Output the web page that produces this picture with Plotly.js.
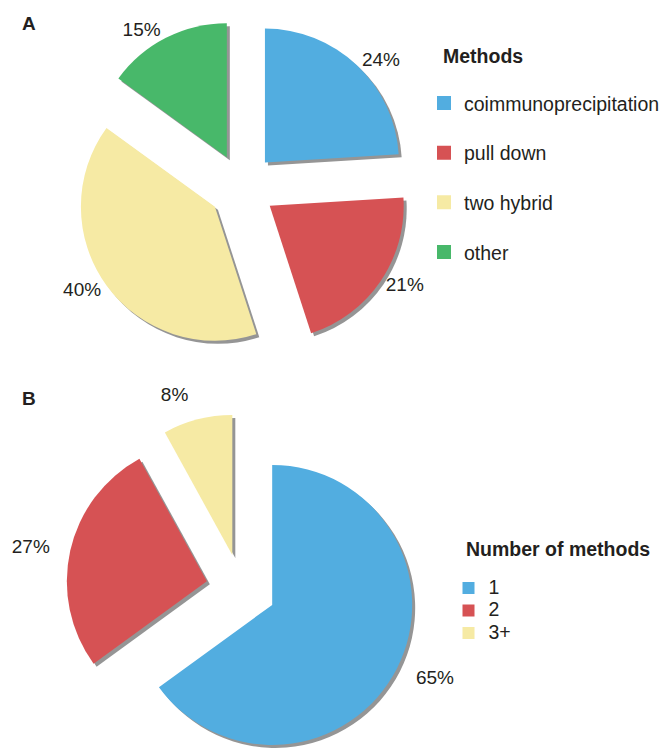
<!DOCTYPE html>
<html><head><meta charset="utf-8">
<script src="https://cdn.plot.ly/plotly-3.0.1.min.js"></script>
<style>html,body{margin:0;padding:0;overflow:hidden;background:#fff}#chart{width:666px;height:790px}</style>
</head><body><div id="chart"></div>
<script>
// ---- data ----
const methodLabels = ['coimmunoprecipitation', 'pull down', 'two hybrid', 'other'];
const methodValues = [24, 21, 40, 15];
const countLabels = ['1', '2', '3+'];
const countValues = [65, 27, 8];

// ---- styles ----
const methodColors = ['#52ade0', '#d65254', '#f6eaa4', '#48b86a'];
const countColors = ['#52ade0', '#d65254', '#f6eaa4'];
const shadowColor = '#959595';
const textColor = '#231f20';
const FONT = 'Liberation Sans, Arial, Helvetica, sans-serif';
const W = 666, H = 790;
const PULL = 0.25;

function dom(x0, x1, yTop, yBot, dx, dy) {
  dx = dx || 0; dy = dy || 0;
  return {x: [(x0 + dx) / W, (x1 + dx) / W], y: [1 - (yBot + dy) / H, 1 - (yTop + dy) / H]};
}
function pie(labels, values, colors, domain, extra) {
  return Object.assign({
    type: 'pie', labels: labels, values: values, sort: false, direction: 'clockwise', rotation: 0,
    pull: values.map(() => PULL), domain: domain,
    marker: {colors: colors, line: {width: 0}},
    textposition: 'outside', textinfo: 'percent',
    textfont: {family: FONT, size: 19, color: textColor},
    outsidetextfont: {family: FONT, size: 19, color: textColor},
    hoverinfo: 'label+percent'
  }, extra || {});
}

const domA = [74.5, 409.5, 19.5, 354.5];   // centre (242,187), r = 134
const domB = [66, 416, 414, 764];          // centre (241,589), r = 140
const SH = 3;
const LABEL_PULL_B = 0.36;                 // labels of panel B sit a little further out
const sB = 140 * (1 + LABEL_PULL_B);       // half-size of label carrier domain

const traces = [];
// shadows
traces.push(pie(methodLabels, methodValues, methodValues.map(() => shadowColor),
  dom(domA[0], domA[1], domA[2], domA[3], SH, SH), {textinfo: 'none', hoverinfo: 'skip', showlegend: false}));
traces.push(pie(countLabels, countValues, countValues.map(() => shadowColor),
  dom(domB[0], domB[1], domB[2], domB[3], SH, SH), {textinfo: 'none', hoverinfo: 'skip', showlegend: false}));
// main pies
traces.push(pie(methodLabels, methodValues, methodColors, dom(domA[0], domA[1], domA[2], domA[3]), {showlegend: false}));
traces.push(pie(countLabels.map(l => '<span style="font-size:19.5px">' + l + '</span>'), countValues, countColors,
  dom(domB[0], domB[1], domB[2], domB[3]), {legend: 'legend2', textinfo: 'none'}));
// percentage labels for panel B (transparent slices, same centre and radius)
traces.push(pie(countLabels, countValues, countValues.map(() => 'rgba(0,0,0,0)'),
  dom(241 - sB, 241 + sB, 589 - sB, 589 + sB), {pull: countValues.map(() => LABEL_PULL_B), showlegend: false, hoverinfo: 'skip'}));
// legend entries for panel A (one group per method for wider spacing)
methodLabels.forEach((lab, i) => traces.push({
  type: 'scatter', mode: 'markers', x: [null], y: [null], name: lab, legendgroup: 'm' + i,
  marker: {symbol: 'square', size: 14, color: methodColors[i]}, hoverinfo: 'skip', legend: 'legend'
}));

const layout = {
  width: W, height: H,
  margin: {l: 0, r: 0, t: 0, b: 0, autoexpand: false},
  paper_bgcolor: '#ffffff', plot_bgcolor: '#ffffff',
  font: {family: FONT, size: 19, color: textColor},
  xaxis: {visible: false}, yaxis: {visible: false},
  showlegend: true,
  legend: {x: 424 / W, xanchor: 'left', y: 1 - 83.8 / H, yanchor: 'top',
    font: {family: FONT, size: 19.5, color: textColor}, tracegroupgap: 21.3,
    bgcolor: 'rgba(0,0,0,0)', traceorder: 'grouped'},
  legend2: {x: 448.5 / W, xanchor: 'left', y: 1 - 571.75 / H, yanchor: 'top',
    font: {family: FONT, size: 15, color: textColor}, bgcolor: 'rgba(0,0,0,0)', traceorder: 'normal'},
  annotations: [
    {text: '<b>A</b>', x: 20 / W, y: 1 - 23 / H, xref: 'paper', yref: 'paper', xanchor: 'left', yanchor: 'middle', showarrow: false, font: {family: FONT, size: 19, color: textColor}},
    {text: '<b>B</b>', x: 20 / W, y: 1 - 398 / H, xref: 'paper', yref: 'paper', xanchor: 'left', yanchor: 'middle', showarrow: false, font: {family: FONT, size: 19, color: textColor}},
    {text: '<b>Methods</b>', x: 441 / W, y: 1 - 56 / H, xref: 'paper', yref: 'paper', xanchor: 'left', yanchor: 'middle', showarrow: false, font: {family: FONT, size: 19.5, color: textColor}},
    {text: '<b>Number of methods</b>', x: 464 / W, y: 1 - 549 / H, xref: 'paper', yref: 'paper', xanchor: 'left', yanchor: 'middle', showarrow: false, font: {family: FONT, size: 19.5, color: textColor}}
  ]
};

Plotly.newPlot('chart', traces, layout, {displayModeBar: false, staticPlot: true});
</script>
</body></html>
